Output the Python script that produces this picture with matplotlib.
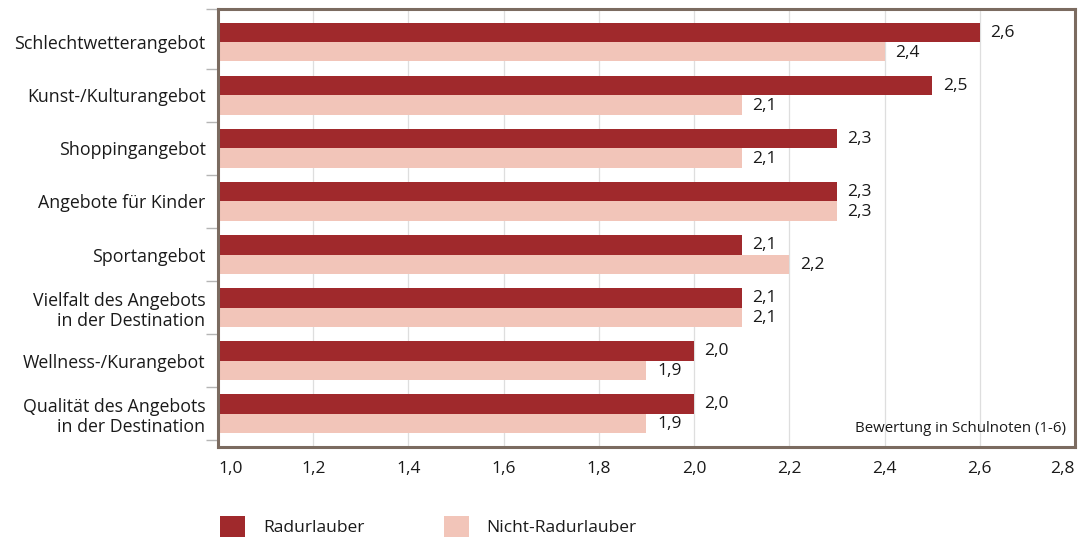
import matplotlib
matplotlib.use("Agg")
import matplotlib.pyplot as plt
from matplotlib.patches import Patch
import numpy as np

plt.rcParams['font.family'] = ['Open Sans', 'DejaVu Sans']

categories = [
    "Schlechtwetterangebot",
    "Kunst-/Kulturangebot",
    "Shoppingangebot",
    "Angebote für Kinder",
    "Sportangebot",
    "Vielfalt des Angebots\nin der Destination",
    "Wellness-/Kurangebot",
    "Qualität des Angebots\nin der Destination",
]
radurlauber = [2.6, 2.5, 2.3, 2.3, 2.1, 2.1, 2.0, 2.0]
nicht_radurlauber = [2.4, 2.1, 2.1, 2.3, 2.2, 2.1, 1.9, 1.9]
series_names = ["Radurlauber", "Nicht-Radurlauber"]
x_ticks = [1.0, 1.2, 1.4, 1.6, 1.8, 2.0, 2.2, 2.4, 2.6, 2.8]

RED = "#a0292c"
PINK = "#f2c5b9"
FRAME = "#7b6b60"
TEXT = "#1a1a1a"

fig = plt.figure(figsize=(10.83, 5.39), dpi=100)
ax = fig.add_axes([0.2013, 0.1707, 0.7913, 0.8126])

y = np.arange(len(categories))
h = 0.36
base = 1.0
ax.barh(y - h / 2, np.array(radurlauber) - base, left=base, height=h,
        color=RED, zorder=2)
ax.barh(y + h / 2, np.array(nicht_radurlauber) - base, left=base, height=h,
        color=PINK, zorder=2)

def fmt(v):
    return f"{v:.1f}".replace(".", ",")

for yi, v in zip(y, radurlauber):
    ax.text(v + 0.022, yi - h / 2, fmt(v), va="center", ha="left",
            fontsize=12.5, color=TEXT)
for yi, v in zip(y, nicht_radurlauber):
    ax.text(v + 0.022, yi + h / 2 + 0.02, fmt(v), va="center", ha="left",
            fontsize=12.5, color=TEXT)

ax.set_xlim(1.0, 2.8)
ax.set_ylim(len(categories) - 1 + 0.63, -0.63)

ax.set_xticks(x_ticks)
ax.set_xticklabels([fmt(t) for t in x_ticks], fontsize=12.5, color=TEXT)
xl = ax.get_xticklabels()
xl[0].set_horizontalalignment("left")
xl[-1].set_horizontalalignment("right")
ax.tick_params(axis="x", length=0, pad=10)
ax.grid(axis="x", color="#dedede", linewidth=0.9, zorder=1)
ax.set_axisbelow(True)

ax.set_yticks(y)
ax.set_yticklabels(categories, fontsize=12.8, color=TEXT, linespacing=1.2)
ax.tick_params(axis="y", which="major", length=0, pad=9)
ax.set_yticks([-0.63] + list(np.arange(len(categories)) + 0.5), minor=True)
ax.tick_params(axis="y", which="minor", length=9, width=1.0, color="#b5b5b5")

for s in ax.spines.values():
    s.set_color(FRAME)
    s.set_linewidth(2.2)

ax.text(0.99, 0.025, "Bewertung in Schulnoten (1-6)", transform=ax.transAxes,
        ha="right", va="bottom", fontsize=10.8, color=TEXT)

handles = [Patch(facecolor=RED, edgecolor="none"),
           Patch(facecolor=PINK, edgecolor="none")]
fig.legend(handles, series_names, loc="lower left",
           bbox_to_anchor=(0.189, -0.025), ncol=2, frameon=False,
           fontsize=12.5, handlelength=1.45, handleheight=1.45,
           handletextpad=1.0, columnspacing=4.6, labelcolor=TEXT)

fig.savefig("out.png", dpi=100)
